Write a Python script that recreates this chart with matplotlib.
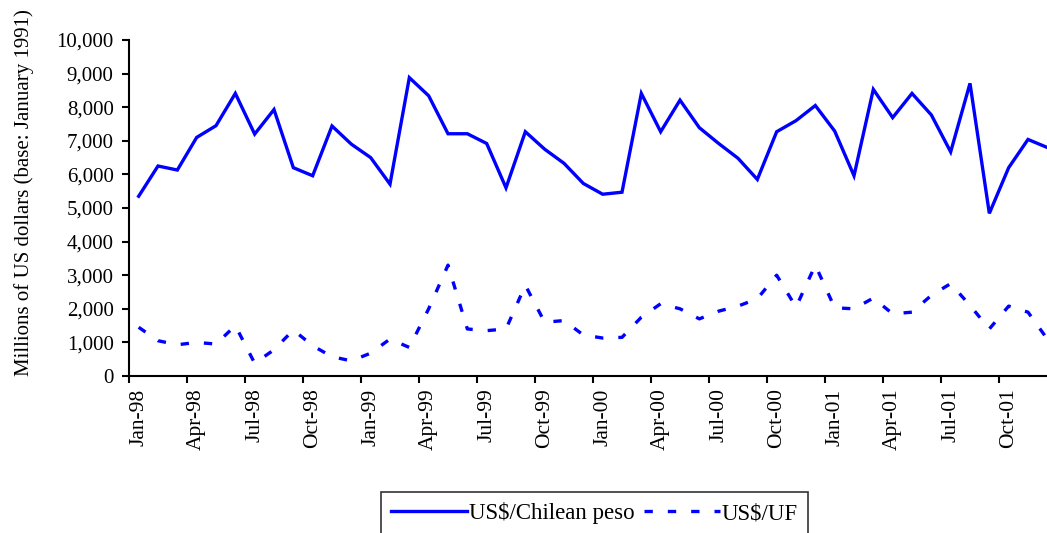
import matplotlib
matplotlib.use("Agg")
import matplotlib.pyplot as plt
from matplotlib.ticker import FuncFormatter, FixedLocator

# Monthly series, Jan-1998 .. Dec-2001
months = [f"{m}-{y}" for y in ["98", "99", "00", "01"]
          for m in ["Jan", "Feb", "Mar", "Apr", "May", "Jun",
                    "Jul", "Aug", "Sep", "Oct", "Nov", "Dec"]]

peso = [5350, 6250, 6130, 7100, 7450, 8410, 7200, 7930, 6200, 5960, 7440, 6900,
        6500, 5710, 8880, 8340, 7210, 7210, 6920, 5600, 7270, 6750, 6330, 5730,
        5410, 5470, 8410, 7270, 8210, 7390, 6920, 6480, 5850, 7270, 7600, 8050,
        7290, 5960, 8530, 7690, 8410, 7770, 6670, 8710, 4840, 6200, 7040, 6800]

uf = [1450, 1050, 930, 1000, 950, 1500, 380, 780, 1370, 900, 575, 450,
      680, 1100, 850, 2000, 3300, 1400, 1350, 1400, 2700, 1600, 1650, 1220,
      1130, 1150, 1750, 2150, 2000, 1700, 1930, 2080, 2300, 3000, 2050, 3300,
      2030, 2000, 2320, 1850, 1900, 2400, 2750, 2100, 1400, 2080, 1900, 1100]

label_peso = "US$/Chilean peso"
label_uf = "US$/UF"
y_label = "Millions of US dollars (base: January 1991)"

plt.rcParams["font.family"] = ["Liberation Serif", "DejaVu Serif"]
FS = 15

W, H = 1047, 533
fig = plt.figure(figsize=(W / 100, H / 100), dpi=100)
left_px, right_px, top_px, bottom_px = 129, 1057, 40, 376
ax = fig.add_axes([left_px / W, 1 - bottom_px / H,
                   (right_px - left_px) / W, (bottom_px - top_px) / H])

x = list(range(len(months)))
blue = "#0000FF"
ax.plot(x, peso, color=blue, lw=2.4, solid_joinstyle="miter", label=label_peso)
ax.plot(x, uf, color=blue, lw=2.4, dashes=(2.5, 4.5), label=label_uf)

ax.set_xlim(-0.5, len(months) - 0.5)
ax.set_ylim(0, 10000)
ax.set_yticks(range(0, 10001, 1000))
ax.yaxis.set_major_formatter(FuncFormatter(lambda v, p: f"{int(v):,}"))

# category boundaries carry the tick marks, centres carry the labels
ax.xaxis.set_major_locator(FixedLocator([i - 0.5 for i in range(0, len(months) + 1, 3)]))
ax.xaxis.set_minor_locator(FixedLocator(list(range(0, len(months), 3))))
ax.set_xticklabels([])
ax.set_xticklabels([months[i] for i in range(0, len(months), 3)], minor=True,
                   rotation=90)
ax.tick_params(axis="x", which="major", direction="out", length=5, width=1.5)
ax.tick_params(axis="x", which="minor", length=0, pad=9, labelsize=15.5)
ax.tick_params(axis="y", direction="out", length=5, width=1.5, pad=6, labelsize=FS)

for side in ["top", "right"]:
    ax.spines[side].set_visible(False)
for side in ["left", "bottom"]:
    ax.spines[side].set_linewidth(1.5)

fig.text(24 / W, 1 - 193 / H, y_label, rotation=90, ha="center", va="center",
         fontsize=FS)

leg = fig.legend(loc="upper left", bbox_to_anchor=(381 / W, 1 - 492 / H),
                 ncol=2, fontsize=16.5, frameon=True, fancybox=False,
                 borderaxespad=0, handlelength=3.3, handletextpad=0.1,
                 columnspacing=0.4, borderpad=0.45)
leg.get_frame().set_edgecolor("black")
leg.get_frame().set_linewidth(1.2)

fig.savefig("out.png", dpi=100)
